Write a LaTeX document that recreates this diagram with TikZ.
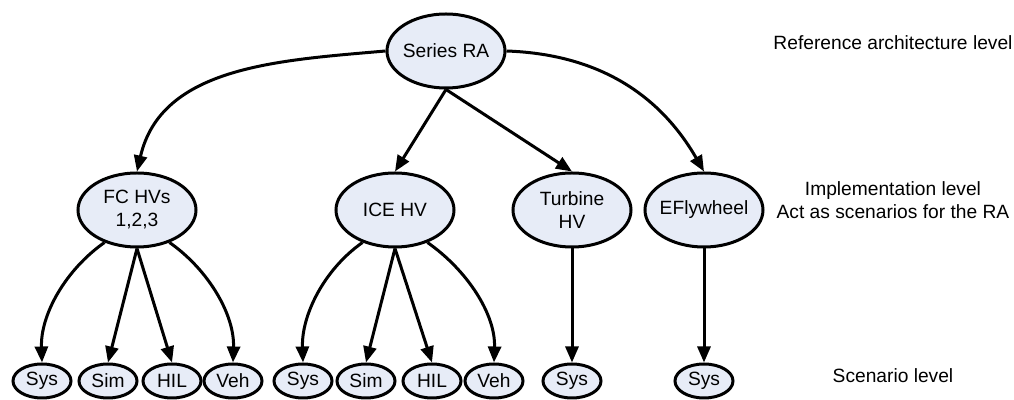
\documentclass[tikz,border=0pt]{standalone}
\usepackage{fontspec}
\setmainfont{Liberation Sans}
\usetikzlibrary{shapes.geometric,arrows.meta}
\definecolor{nodefill}{RGB}{231,236,247}
\begin{document}
\begin{tikzpicture}[x=0.5pt,y=-0.5pt,
  txt/.style={font=\fontsize{9.6pt}{11.5pt}\selectfont},
  bignode/.style={txt,ellipse,draw,fill=nodefill,line width=1.5pt,
    minimum width=59pt,minimum height=37pt,inner xsep=-4pt,inner ysep=0pt,align=center},
  leaf/.style={txt,ellipse,draw,fill=nodefill,line width=1.5pt,
    minimum width=29pt,minimum height=17pt,inner sep=0pt},
  lbl/.style={txt,align=center,inner sep=0pt},
  arr/.style={line width=1.5pt,-{Triangle[length=8pt,width=6.5pt]}},
  bendl/.style={out=215,in=92,looseness=0.9},
  bendr/.style={out=-35,in=88,looseness=0.9}]
\useasboundingbox (0,0) rectangle (1014,400);

% reference architecture level
\node[bignode] (sra) at (446,51) {Series RA};

% implementation level
\node[bignode] (fc)   at (137,210) {FC HVs\\1,2,3};
\node[bignode] (ice)  at (395,210) {ICE HV};
\node[bignode] (turb) at (572,210) {Turbine\\HV};
\node[bignode] (efw)  at (704,210) {EFlywheel};

% scenario level
\node[leaf] (fsys) at (42,381)  {Sys};
\node[leaf] (fsim) at (108,381) {Sim};
\node[leaf] (fhil) at (172,381) {HIL};
\node[leaf] (fveh) at (233,381) {Veh};
\node[leaf] (isys) at (303,381) {Sys};
\node[leaf] (isim) at (366,381) {Sim};
\node[leaf] (ihil) at (432,381) {HIL};
\node[leaf] (iveh) at (494,381) {Veh};
\node[leaf] (tsys) at (572,381) {Sys};
\node[leaf] (esys) at (704,381) {Sys};

% level captions
\node[lbl] (lref)  at (893,43)  {Reference architecture level};
\node[lbl] (limpl) at (893,200) {Implementation level\\Act as scenarios for the RA};
\node[lbl] (lscen) at (893,376) {Scenario level};

% RA to implementations
\draw[arr] (sra.west) to[out=185,in=77] (fc.north);
\draw[arr] (sra.south) -- (ice.north);
\draw[arr] (sra.south) -- (turb.north);
\draw[arr] (sra.east) to[out=-2,in=120] (efw.north);

% implementations to scenarios
\draw[arr] (fc.225) to[bendl] (fsys.north);
\draw[arr] (fc.south) -- (fsim.north);
\draw[arr] (fc.south) -- (fhil.north);
\draw[arr] (fc.-45) to[bendr] (fveh.north);
\draw[arr] (ice.225) to[bendl] (isys.north);
\draw[arr] (ice.south) -- (isim.north);
\draw[arr] (ice.south) -- (ihil.north);
\draw[arr] (ice.-45) to[bendr] (iveh.north);
\draw[arr] (turb.south) -- (tsys.north);
\draw[arr] (efw.south) -- (esys.north);
\end{tikzpicture}
\end{document}
